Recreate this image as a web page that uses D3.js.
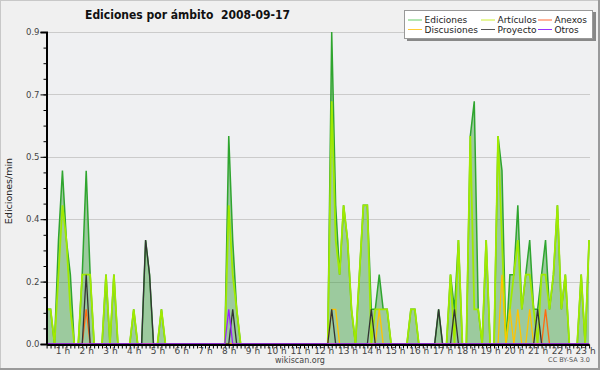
<!DOCTYPE html>
<html>
<head>
<meta charset="utf-8">
<script src="https://cdn.jsdelivr.net/npm/d3@7/dist/d3.min.js"></script>
<style>
  body { margin: 0; background: #f0f0f0; }
  svg { display: block; }
  text { font-family: "DejaVu Sans", sans-serif; }
</style>
</head>
<body>
<svg id="chart"></svg>
<script>
// Constants
const width = 600;
const height = 370;

// 10-minute bins, first bin at 00:20
const firstMinute = 20;
const binMinutes = 10;

// Ediciones/min per bin
const ediciones = [
  0.1, 0.1, 0, 0.3, 0.5, 0.3, 0.2, 0, 0, 0.2,
  0.5, 0.2, 0, 0, 0, 0.2, 0, 0.2, 0, 0,
  0, 0, 0.1, 0, 0, 0.3, 0.2, 0, 0, 0.1,
  0, 0, 0, 0, 0, 0, 0, 0, 0, 0,
  0, 0, 0, 0, 0, 0, 0.6, 0.3, 0.1, 0,
  0, 0, 0, 0, 0, 0, 0, 0, 0, 0,
  0, 0, 0, 0, 0, 0, 0, 0, 0, 0,
  0, 0, 0.9, 0.4, 0.2, 0.4, 0.3, 0.1, 0, 0.2,
  0.4, 0.4, 0.1, 0.1, 0.2, 0.1, 0.1, 0, 0, 0,
  0, 0, 0.1, 0.1, 0, 0, 0, 0, 0, 0.1,
  0, 0, 0.2, 0.1, 0.3, 0, 0, 0.6, 0.7, 0.1,
  0, 0.3, 0, 0, 0.6, 0.5, 0, 0.2, 0.2, 0.4,
  0.1, 0.2, 0.3, 0.1, 0.1, 0.2, 0.3, 0.1, 0.2, 0.4,
  0.1, 0.2, 0, 0, 0, 0.2, 0, 0.3
];

const articulos = [
  0.1, 0.1, 0, 0.2, 0.4, 0.3, 0.1, 0, 0, 0.2,
  0.2, 0.2, 0, 0, 0, 0.2, 0, 0.2, 0, 0,
  0, 0, 0.1, 0, 0, 0, 0, 0, 0, 0.1,
  0, 0, 0, 0, 0, 0, 0, 0, 0, 0,
  0, 0, 0, 0, 0, 0, 0.4, 0.2, 0.1, 0,
  0, 0, 0, 0, 0, 0, 0, 0, 0, 0,
  0, 0, 0, 0, 0, 0, 0, 0, 0, 0,
  0, 0, 0.7, 0.3, 0.2, 0.4, 0.3, 0.1, 0, 0.2,
  0.4, 0.4, 0, 0.1, 0.1, 0.1, 0.1, 0, 0, 0,
  0, 0, 0.1, 0.1, 0, 0, 0, 0, 0, 0,
  0, 0, 0.2, 0, 0.3, 0, 0, 0.6, 0.1, 0.1,
  0, 0.3, 0, 0, 0.6, 0.3, 0, 0.1, 0.2, 0.3,
  0.1, 0.2, 0.2, 0.1, 0, 0.2, 0.2, 0.1, 0.2, 0.4,
  0.1, 0.2, 0, 0, 0, 0.2, 0, 0.3
];

const discusiones = [
  0, 0, 0, 0, 0, 0, 0, 0, 0, 0,
  0, 0, 0, 0, 0, 0, 0, 0, 0, 0,
  0, 0, 0, 0, 0, 0, 0, 0, 0, 0,
  0, 0, 0, 0, 0, 0, 0, 0, 0, 0,
  0, 0, 0, 0, 0, 0, 0, 0, 0, 0,
  0, 0, 0, 0, 0, 0, 0, 0, 0, 0,
  0, 0, 0, 0, 0, 0, 0, 0, 0, 0,
  0, 0, 0.1, 0.1, 0, 0, 0, 0, 0, 0,
  0, 0, 0, 0, 0.1, 0, 0, 0, 0, 0,
  0, 0, 0, 0, 0, 0, 0, 0, 0, 0,
  0, 0, 0, 0, 0, 0, 0, 0, 0, 0,
  0, 0, 0, 0, 0, 0.2, 0, 0.1, 0, 0.1,
  0, 0, 0.1, 0, 0, 0, 0, 0, 0, 0,
  0, 0, 0, 0, 0, 0, 0, 0
];

const proyecto = [
  0, 0, 0, 0, 0, 0, 0, 0, 0, 0,
  0.2, 0, 0, 0, 0, 0, 0, 0, 0, 0,
  0, 0, 0, 0, 0, 0.3, 0.2, 0, 0, 0,
  0, 0, 0, 0, 0, 0, 0, 0, 0, 0,
  0, 0, 0, 0, 0, 0, 0, 0.1, 0, 0,
  0, 0, 0, 0, 0, 0, 0, 0, 0, 0,
  0, 0, 0, 0, 0, 0, 0, 0, 0, 0,
  0, 0, 0.1, 0, 0, 0, 0, 0, 0, 0,
  0, 0, 0.1, 0, 0, 0, 0, 0, 0, 0,
  0, 0, 0, 0, 0, 0, 0, 0, 0, 0.1,
  0, 0, 0, 0.1, 0, 0, 0, 0, 0, 0,
  0, 0, 0, 0, 0, 0, 0, 0, 0, 0,
  0, 0, 0, 0, 0.1, 0, 0, 0, 0, 0,
  0, 0, 0, 0, 0, 0, 0, 0
];

const anexos = [
  0, 0, 0, 0, 0, 0, 0, 0, 0, 0,
  0.1, 0, 0, 0, 0, 0, 0, 0, 0, 0,
  0, 0, 0, 0, 0, 0, 0, 0, 0, 0,
  0, 0, 0, 0, 0, 0, 0, 0, 0, 0,
  0, 0, 0, 0, 0, 0, 0, 0, 0, 0,
  0, 0, 0, 0, 0, 0, 0, 0, 0, 0,
  0, 0, 0, 0, 0, 0, 0, 0, 0, 0,
  0, 0, 0, 0, 0, 0, 0, 0, 0, 0,
  0, 0, 0, 0, 0, 0, 0, 0, 0, 0,
  0, 0, 0, 0, 0, 0, 0, 0, 0, 0,
  0, 0, 0, 0, 0, 0, 0, 0, 0, 0,
  0, 0, 0, 0, 0, 0, 0, 0, 0, 0,
  0, 0, 0, 0, 0, 0, 0.1, 0, 0, 0,
  0, 0, 0, 0, 0, 0, 0, 0
];

const otros = [
  0, 0, 0, 0, 0, 0, 0, 0, 0, 0,
  0, 0, 0, 0, 0, 0, 0, 0, 0, 0,
  0, 0, 0, 0, 0, 0, 0, 0, 0, 0,
  0, 0, 0, 0, 0, 0, 0, 0, 0, 0,
  0, 0, 0, 0, 0, 0, 0.1, 0, 0, 0,
  0, 0, 0, 0, 0, 0, 0, 0, 0, 0,
  0, 0, 0, 0, 0, 0, 0, 0, 0, 0,
  0, 0, 0, 0, 0, 0, 0, 0, 0, 0,
  0, 0, 0, 0, 0, 0, 0, 0, 0, 0,
  0, 0, 0, 0, 0, 0, 0, 0, 0, 0,
  0, 0, 0, 0, 0, 0, 0, 0, 0, 0,
  0, 0, 0, 0, 0, 0, 0, 0, 0, 0,
  0, 0, 0, 0, 0, 0, 0, 0, 0, 0,
  0, 0, 0, 0, 0, 0, 0, 0
];

// Axis ticks
const hourTicks = [1, 2, 3, 4, 5, 6, 7, 8, 9, 10, 11, 12, 13, 14, 15, 16, 17, 18, 19, 20, 21, 22, 23];
const yTicks = [0, 0.18, 0.36, 0.54, 0.72, 0.9];
const yMinorStep = 0.045;

// Legend, in reading order (two rows, three columns)
const legendItems = [
  { name: "Ediciones", color: "#66cc66" },
  { name: "Artículos", color: "#ccee33" },
  { name: "Anexos", color: "#ff6633" },
  { name: "Discusiones", color: "#ffcc33" },
  { name: "Proyecto", color: "#555555" },
  { name: "Otros", color: "#9933ff" }
];

const plot = { left: 46, right: 590, top: 32, bottom: 344 };

const svg = d3.select("#chart")
  .attr("width", width)
  .attr("height", height);

// Background and frame
svg.append("rect").attr("width", width).attr("height", height).attr("fill", "#f0f0f0");
svg.append("rect").attr("x", 0.5).attr("y", 0.5).attr("width", width - 1).attr("height", height - 1)
  .attr("fill", "none").attr("stroke", "#c8c8c8");
svg.append("path").attr("d", `M${width - 1},0V${height - 1}H0`)
  .attr("fill", "none").attr("stroke", "#9a9a9a").attr("stroke-width", 2);

svg.append("rect")
  .attr("x", plot.left).attr("y", plot.top)
  .attr("width", plot.right - plot.left).attr("height", plot.bottom - plot.top)
  .attr("fill", "#eff0f2");

// Scales
const lastMinute = firstMinute + (ediciones.length - 1) * binMinutes;
const x = d3.scaleLinear().domain([firstMinute, lastMinute]).range([46.6, 589.1]);
const y = d3.scaleLinear().domain([0, 0.9]).range([plot.bottom, plot.top]);
const binX = (d, i) => x(firstMinute + i * binMinutes);

// Grid
svg.append("g")
  .selectAll("line")
  .data(yTicks.slice(1))
  .enter().append("line")
  .attr("x1", plot.left).attr("x2", plot.right)
  .attr("y1", d => Math.round(y(d)) + 0.5).attr("y2", d => Math.round(y(d)) + 0.5)
  .attr("stroke", "#cbcbcb");

// Clip
svg.append("clipPath").attr("id", "clip")
  .append("rect").attr("x", plot.left).attr("y", plot.top - 2)
  .attr("width", plot.right - plot.left).attr("height", plot.bottom - plot.top + 2);

const g = svg.append("g").attr("clip-path", "url(#clip)");

const area = d3.area().x(binX).y0(y(0)).y1(d => y(d));
const line = d3.line().x(binX).y(d => y(d));

g.append("path").datum(ediciones).attr("d", area)
  .attr("fill", "#339933").attr("fill-opacity", 0.44);

const series = [
  { data: ediciones, color: "#2fa52f", w: 1.5 },
  { data: articulos, color: "#a0ea00", w: 1.8 },
  { data: discusiones, color: "#ffc400", w: 1.3 },
  { data: anexos, color: "#ff6a10", w: 1.3 },
  { data: proyecto, color: "#333333", w: 1.3 },
  { data: otros, color: "#9a22ff", w: 1.3 }
];

g.selectAll(".series")
  .data(series)
  .enter().append("path")
  .attr("class", "series")
  .attr("d", d => line(d.data))
  .attr("fill", "none")
  .attr("stroke", d => d.color)
  .attr("stroke-width", d => d.w)
  .attr("stroke-linejoin", "miter");

// Y axis
const yAxis = svg.append("g").attr("transform", `translate(${plot.left + 0.5},0)`)
  .call(d3.axisLeft(y).tickValues(yTicks).tickFormat(d3.format(".1f")).tickSize(6).tickPadding(1));
svg.append("g").attr("transform", `translate(${plot.left + 0.5},0)`)
  .call(d3.axisLeft(y).tickValues(d3.range(0, 0.9001, yMinorStep)).tickFormat("").tickSize(3))
  .select(".domain").remove();
yAxis.select(".domain").attr("stroke", "#000").attr("stroke-width", 2);
yAxis.selectAll("text").attr("font-size", 8.5).attr("fill", "#444").attr("font-family", "DejaVu Sans");

// X axis
const xMinor = svg.append("g").attr("transform", `translate(0,${plot.bottom + 0.5})`)
  .call(d3.axisBottom(x).tickValues(ediciones.map((d, i) => firstMinute + i * binMinutes)).tickFormat("").tickSize(4).tickSizeOuter(0));
xMinor.select(".domain").attr("stroke", "#000").attr("stroke-width", 2);
xMinor.selectAll(".tick line").attr("stroke", "#000");

const xLabels = svg.append("g").attr("transform", `translate(0,${plot.bottom})`)
  .call(d3.axisBottom(x).tickValues(hourTicks.map(h => h * 60)).tickFormat(d => (d / 60) + " h").tickSize(0).tickPadding(4));
xLabels.select(".domain").remove();
xLabels.selectAll("text").attr("font-size", 9).attr("fill", "#444").attr("font-family", "DejaVu Sans");

// Y axis title
svg.append("text")
  .attr("transform", "translate(12,191) rotate(-90)")
  .attr("text-anchor", "middle")
  .attr("font-family", "DejaVu Sans Mono")
  .attr("font-size", 9.5)
  .attr("fill", "#222")
  .text("Ediciones/min");

// Title
svg.append("text")
  .attr("x", 85).attr("y", 19)
  .attr("font-size", 12.5).attr("font-weight", "bold")
  .attr("fill", "#111")
  .attr("textLength", 205).attr("lengthAdjust", "spacingAndGlyphs")
  .style("white-space", "pre")
  .text("Ediciones por ámbito  2008-09-17");

// Footer
svg.append("text")
  .attr("x", 300).attr("y", 363)
  .attr("text-anchor", "middle")
  .attr("font-size", 8).attr("fill", "#444")
  .text("wikiscan.org");
svg.append("text")
  .attr("x", 590).attr("y", 362)
  .attr("text-anchor", "end")
  .attr("font-size", 6.5).attr("fill", "#555")
  .text("CC BY-SA 3.0");

// Legend
const legend = svg.append("g");
legend.append("rect").attr("x", 407).attr("y", 12).attr("width", 189).attr("height", 29).attr("fill", "#888");
legend.append("rect").attr("x", 404.5).attr("y", 10.5).attr("width", 188).attr("height", 28)
  .attr("fill", "#fff").attr("stroke", "#999");

const colX = [408, 481, 538];
const rowY = [20, 29.5];
const entry = legend.selectAll(".entry")
  .data(legendItems)
  .enter().append("g")
  .attr("class", "entry")
  .attr("transform", (d, i) => `translate(${colX[i % 3]},${rowY[Math.floor(i / 3)]})`);
entry.append("line").attr("x1", 0).attr("x2", 14).attr("stroke", d => d.color).attr("stroke-width", 1);
entry.append("text").attr("x", 16.5).attr("y", 3.3)
  .attr("font-size", 9).attr("fill", "#222")
  .text(d => d.name);
</script>
</body>
</html>
